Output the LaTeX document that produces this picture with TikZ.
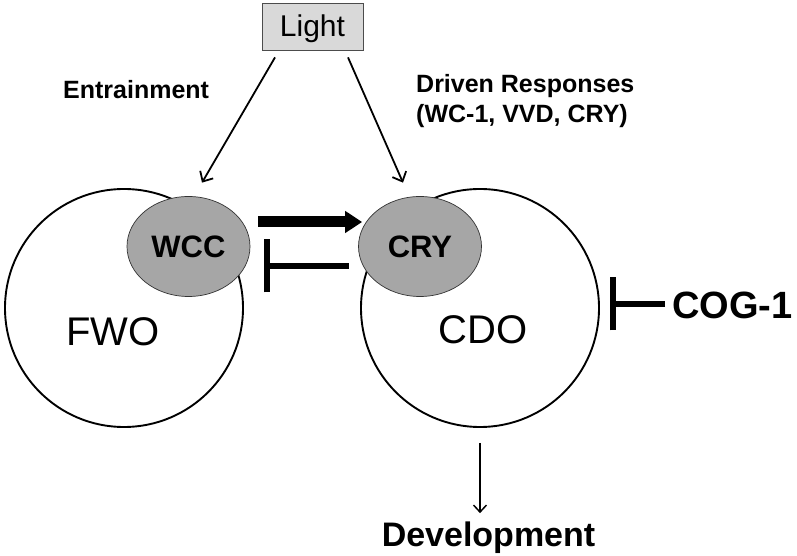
\documentclass[tikz,border=0pt]{standalone}
\usepackage{fontspec}
\setmainfont{Liberation Sans}
\usepackage{xcolor}
\usepackage{tikz}
\usetikzlibrary{arrows.meta,shapes.geometric}

\begin{document}
\begin{tikzpicture}[x=1pt,y=1pt]
\useasboundingbox (0,0) rectangle (797,556);

\tikzstyle{oscil}=[draw,circle,line width=1.9pt,minimum size=238pt,inner sep=0pt];
\tikzstyle{comp}=[draw=black!80,ellipse,line width=0.7pt,fill=black!35,minimum width=123pt,minimum height=100pt,inner sep=0pt,font=\fontsize{31}{31}\selectfont\bfseries];
\tikzstyle{lbl}=[inner sep=0pt,font=\fontsize{25}{30}\selectfont\bfseries];
\tikzstyle{lightarrow}=[line width=1.8pt,-{Straight Barb[length=8pt,width=15pt]}];
\tikzstyle{inhib}=[line width=6pt,-{Bar[width=53pt]}];

\node[oscil] (fwo)at(124,248) {};
\node[oscil] (cdo)at(480,248) {};
\node[inner sep=0pt,font=\fontsize{40}{40}\selectfont] (fwotxt)at(113,224.5) {FWO};
\node[inner sep=0pt,font=\fontsize{40}{40}\selectfont] (cdotxt)at(483,226) {CDO};
\node[comp] (wcc)at(188.5,309.5) {WCC};
\node[comp] (cry)at(420,309.5) {CRY};
\node[draw=black!70,line width=0.8pt,fill=black!15,minimum width=101pt,minimum height=47pt,text height=21pt,text depth=0pt,font=\fontsize{30}{30}\selectfont] (light)at(312.5,529.5) {Light};

\node[lbl,anchor=base west] (entr)at(63,457) {Entrainment};
\node[lbl,anchor=base west,align=left] (driven)at(416,433) {Driven Responses\\(WC-1, VVD, CRY)};
\node[lbl,anchor=west,font=\fontsize{38}{38}\selectfont\bfseries] (cog)at(672,251) {COG-1};
\node[lbl,anchor=base,font=\fontsize{34}{34}\selectfont\bfseries] (dev)at(488.5,9) {Development};

\draw[lightarrow] ([shift={(-37.5,-7)}]light.south)--([shift={(13.5,13.5)}]wcc.north);
\draw[lightarrow] ([shift={(35.5,-7)}]light.south)--([shift={(-17,13.5)}]cry.north);
\draw[line width=11pt,-{Triangle[length=17pt,width=21pt]}] ([shift={(8,24.5)}]wcc.east)--([shift={(4,24.5)}]cry.west);
\draw[inhib] ([shift={(-9.5,-19.5)}]cry.west)--([shift={(14,-19.5)}]wcc.east);
\draw[inhib] ([shift={(-7,1)}]cog.west)--([shift={(-62,1)}]cog.west);
\draw[line width=1.5pt,-{Straight Barb[length=7pt,width=13pt]}] ([yshift=-15pt]cdo.south)--([yshift=9pt]cdo.south |- dev.north);
\end{tikzpicture}
\end{document}
